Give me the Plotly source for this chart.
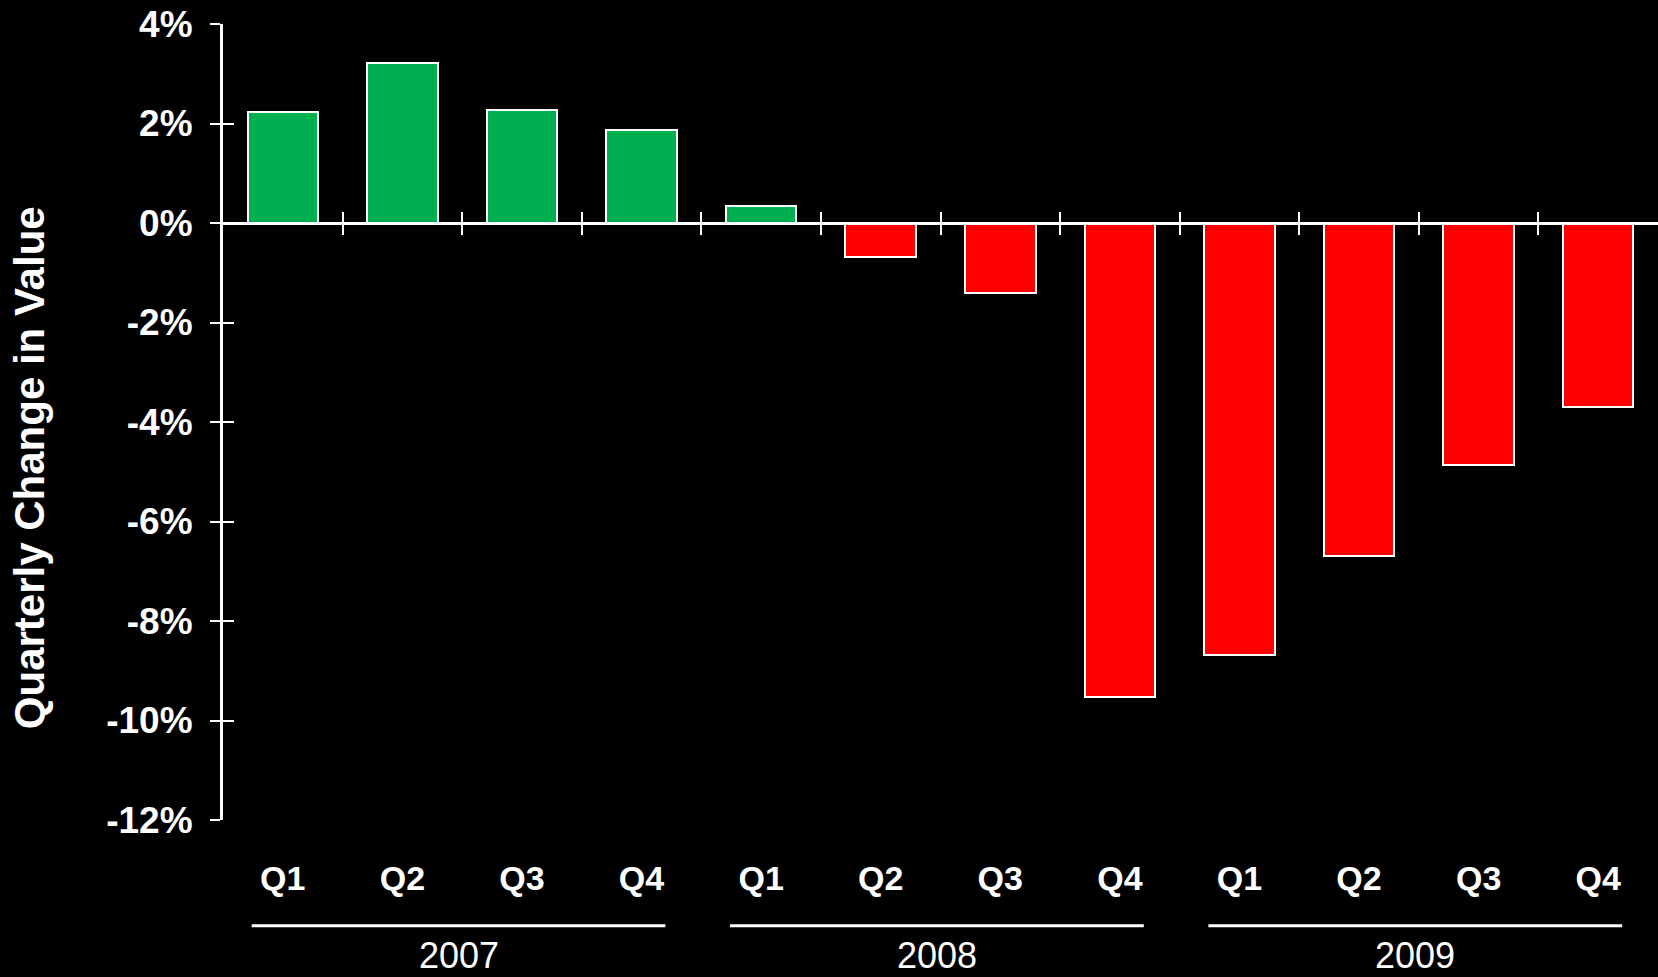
import plotly.graph_objects as go

# Quarterly change in value, 2007-2009
years = ["2007", "2008", "2009"]
quarters = ["Q1", "Q2", "Q3", "Q4"]
changes = [2.23, 3.21, 2.27, 1.87,
           0.34, -0.69, -1.41, -9.52,
           -8.69, -6.69, -4.87, -3.70]
y_ticks = [4, 2, 0, -2, -4, -6, -8, -10, -12]

GREEN = "#00B050"
RED = "#FF0000"
WHITE = "#FFFFFF"
FONT = "Liberation Sans, Arial, sans-serif"

n = len(changes)
xpos = list(range(n))
labels = quarters * len(years)
colors = [GREEN if v >= 0 else RED for v in changes]

y_range = [min(y_ticks), max(y_ticks)]
x_range = [-0.5, n - 0.5]
zero_pos = (0 - y_range[0]) / (y_range[1] - y_range[0])
boundaries = [i + 0.5 for i in range(n - 1)]

fig = go.Figure()
fig.add_trace(go.Bar(
    x=xpos, y=changes,
    width=0.59,
    marker=dict(color=colors, line=dict(color=WHITE, width=2)),
    hoverinfo="skip", showlegend=False,
))
# helper traces so the overlaid tick axes are drawn
fig.add_trace(go.Scatter(x=[], y=[], xaxis="x2", yaxis="y2", showlegend=False))
fig.add_trace(go.Scatter(x=[], y=[], xaxis="x3", yaxis="y2", showlegend=False))

tick_font = dict(family=FONT, size=37, color=WHITE, weight="bold")

fig.update_layout(
    width=1658, height=977,
    margin=dict(l=223, r=0, t=24, b=157),
    paper_bgcolor="black", plot_bgcolor="black",
    bargap=0,
    xaxis=dict(
        range=x_range, tickvals=xpos, ticktext=labels,
        showline=False, showgrid=False, zeroline=False, ticks="",
        tickfont=dict(family=FONT, size=34, color=WHITE, weight="bold"),
        ticklabelstandoff=35,
    ),
    # category separators crossing the zero line (outer half)
    xaxis2=dict(
        overlaying="x", anchor="free", position=zero_pos, side="bottom",
        range=x_range, tickvals=boundaries, showticklabels=False,
        showline=True, linecolor=WHITE, linewidth=3,
        ticks="outside", ticklen=10, tickwidth=2, tickcolor=WHITE,
        showgrid=False, zeroline=False,
    ),
    # category separators crossing the zero line (inner half)
    xaxis3=dict(
        overlaying="x", anchor="free", position=zero_pos, side="bottom",
        range=x_range, tickvals=boundaries, showticklabels=False,
        showline=False,
        ticks="inside", ticklen=11, tickwidth=2, tickcolor=WHITE,
        showgrid=False, zeroline=False,
    ),
    yaxis=dict(
        range=y_range, tickvals=y_ticks, ticktext=[f"{v}%" for v in y_ticks],
        showline=True, linecolor=WHITE, linewidth=3,
        ticks="outside", ticklen=10, tickwidth=2, tickcolor=WHITE,
        showgrid=False, zeroline=False,
        tickfont=tick_font, ticklabelstandoff=10,
    ),
    yaxis2=dict(
        overlaying="y", anchor="x", side="left",
        range=y_range, tickvals=y_ticks, showticklabels=False,
        showline=False,
        ticks="inside", ticklen=11, tickwidth=2, tickcolor=WHITE,
        showgrid=False, zeroline=False,
    ),
)

# axis title
fig.add_annotation(
    text="Quarterly Change in Value", textangle=-90,
    xref="paper", yref="paper", x=0, y=0.442, xshift=-194,
    xanchor="center", yanchor="middle", showarrow=False,
    font=dict(family=FONT, size=42, color=WHITE, weight="bold"),
)

# year groups: rule under the quarter labels and the year beneath
for g, year in enumerate(years):
    start = g * len(quarters)
    x0, x1 = start - 0.26, start + len(quarters) - 0.8
    fig.add_shape(type="line", xref="x", yref="paper",
                  x0=x0, x1=x1, y0=-0.133, y1=-0.133,
                  line=dict(color=WHITE, width=3))
    fig.add_annotation(
        text=year, xref="x", yref="paper", x=(x0 + x1) / 2, y=-0.197,
        xanchor="center", yanchor="bottom", showarrow=False, borderpad=0,
        font=dict(family=FONT, size=36, color=WHITE),
    )

fig.write_html("out.html")
